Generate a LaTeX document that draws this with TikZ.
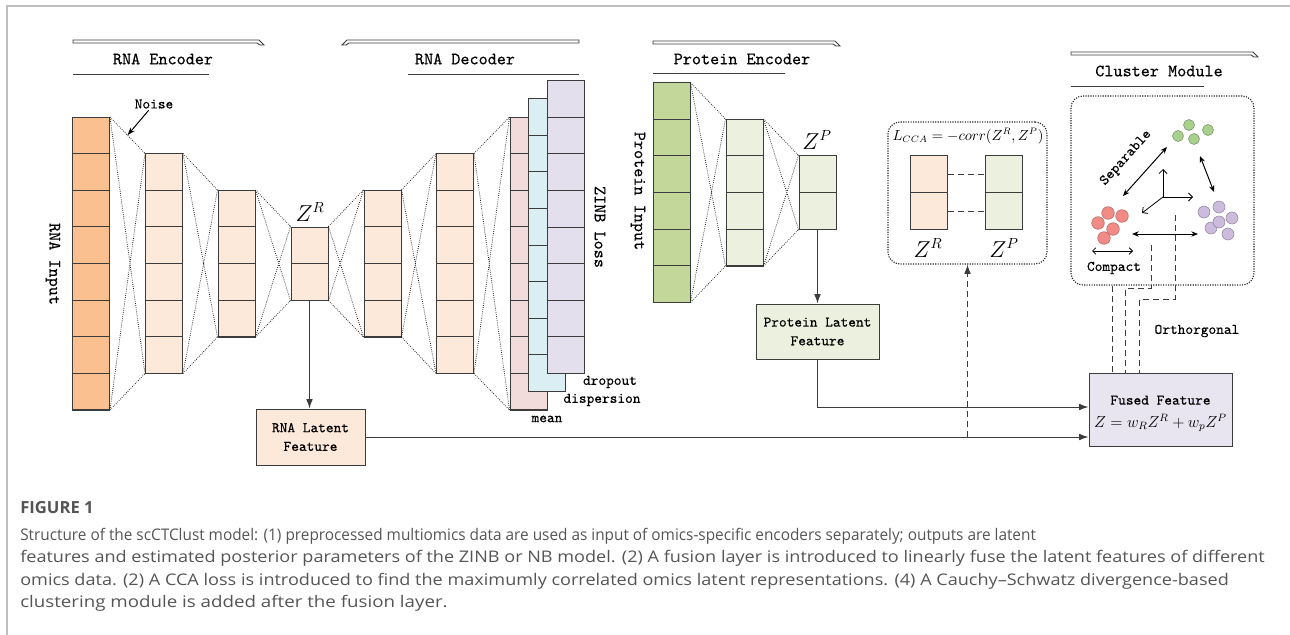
\documentclass[tikz,border=0pt]{standalone}
\usepackage{amsmath}
\usepackage{fontspec}
\newfontfamily\capfont{Open Sans}
\newfontfamily\nnfont[Extension=.otf, FakeBold=0.35]{lmmono10-regular}
\usepackage{xcolor}
\usepackage{graphicx}
\usepackage{tikz}
\usetikzlibrary{
    arrows.meta,
    positioning,
    calc
}

\definecolor{linec}{HTML}{3C3C3C}
\definecolor{rnain}{HTML}{FAC090}
\definecolor{rnal}{HTML}{FDE9D9}
\definecolor{meanc}{HTML}{F2DCDB}
\definecolor{dispc}{HTML}{DAEEF3}
\definecolor{dropc}{HTML}{E4DFEC}
\definecolor{protin}{HTML}{C4D79B}
\definecolor{protl}{HTML}{EBF1DE}
\definecolor{fusedc}{HTML}{E8E4F0}
\definecolor{dotg}{HTML}{A9D18E}
\definecolor{dotr}{HTML}{F28B86}
\definecolor{dotp}{HTML}{CDBBDD}
\definecolor{capgray}{HTML}{555555}

% one layer column: name, x, y, cells, fill
\newcommand{\nncol}[5]{%
    \node[col, fill=#5, minimum height=#4*27.375pt] (#1) at (#2,#3) {};
    \foreach \k in {1,...,#4}
        \draw[cellline] ($(#1.north west)!\k/#4!(#1.south west)$) -- ($(#1.north east)!\k/#4!(#1.south east)$);
}
% dotted links between two layers
\newcommand{\nnlink}[2]{%
    \draw[link] (#1.north east) -- (#2.north west) (#1.south east) -- (#2.south west)
                (#1.north east) -- (#2.south west) (#1.south east) -- (#2.north west);
}
% header bands
\newcommand{\nnband}[3]{%
    \draw[band] (#1,#3) -- (#2,#3) -- ({#2+5},{#3+5}) -- ({#2+1},{#3+5}) -- ({#2-2},{#3+3}) -- (#1,{#3+3}) -- cycle;
}
\newcommand{\nnbandl}[3]{%
    \draw[band] (#2,#3) -- (#1,#3) -- ({#1-5},{#3+5}) -- ({#1-1},{#3+5}) -- ({#1+2},{#3+3}) -- (#2,{#3+3}) -- cycle;
}

\begin{document}
\begin{tikzpicture}[
        x=0.75pt, y=-0.75pt,
        col/.style={
            rectangle,
            draw=linec,
            line width=0.75pt,
            inner sep=0pt,
            minimum width=27.75pt
        },
        cellline/.style={draw=linec, line width=0.75pt},
        link/.style={densely dotted, line width=0.6pt, draw=black!85},
        band/.style={draw=linec, line width=0.65pt, fill=white},
        headtxt/.style={font=\nnfont\fontsize{13}{15}\selectfont, inner sep=1pt},
        vlabel/.style={font=\nnfont\fontsize{13}{15}\selectfont, rotate=-90, inner sep=1pt},
        lbl/.style={font=\nnfont\fontsize{11}{13}\selectfont, inner sep=1pt},
        zlbl/.style={font=\fontsize{16}{18}\selectfont, inner sep=1pt},
        block/.style={
            rectangle,
            draw=linec,
            line width=0.75pt,
            align=center,
            inner sep=2pt,
            font=\nnfont\fontsize{11}{14}\selectfont
        },
        line/.style={
            -{Latex[length=7pt,width=5pt]},
            line width=0.75pt,
            draw=linec
        },
        dline/.style={dash pattern=on 4.5pt off 3pt, line width=0.65pt, draw=linec},
        panel/.style={rectangle, rounded corners=9pt, densely dotted, line width=0.85pt, draw=black!85},
        dbl/.style={{Stealth[length=5pt,width=4pt]}-{Stealth[length=5pt,width=4pt]}, line width=0.75pt},
        small/.style={{Straight Barb[length=2.5pt]}-{Straight Barb[length=2.5pt]}, line width=0.6pt},
        axis/.style={-{Straight Barb[length=3pt]}, line width=0.6pt},
        captxt/.style={anchor=base west, inner sep=0pt, text=capgray, font=\capfont\fontsize{12}{14}\selectfont}
    ]

    \useasboundingbox (0,0) rectangle (1290,635);
    \draw[black!25, line width=0.8pt] (7,635) -- (7,6) -- (1290,6);

    % headers
    \nnband{73}{259}{40}
    \node[headtxt] (hrenc) at (163,59) {RNA Encoder};
    \draw[linec, line width=0.75pt] (73,75) -- (209,75);
    \nnbandl{347}{579}{40}
    \node[headtxt] (hrdec) at (465,59) {RNA Decoder};
    \draw[linec, line width=0.75pt] (408,75) -- (579,75);
    \nnband{653}{835}{41}
    \node[headtxt] (hpenc) at (742,59) {Protein Encoder};
    \draw[linec, line width=0.75pt] (653,74) -- (785,74);
    \nnband{1071}{1253}{52}
    \node[headtxt] (hclus) at (1159,71) {Cluster Module};
    \draw[linec, line width=0.75pt] (1071,87) -- (1204,87);

    % RNA autoencoder
    \nncol{rin}{91}{263.5}{8}{rnain}
    \nncol{renca}{164}{263.5}{6}{rnal}
    \nncol{rencb}{236.5}{263.5}{4}{rnal}
    \nncol{zr}{309.5}{263.5}{2}{rnal}
    \nncol{rdeca}{382.5}{263.5}{4}{rnal}
    \nncol{rdecb}{455}{263.5}{6}{rnal}
    \nncol{mean}{528.5}{263.5}{8}{meanc}
    \nncol{disp}{547}{245}{8}{dispc}
    \nncol{drop}{565.5}{227}{8}{dropc}

    \nnlink{rin}{renca}
    \nnlink{renca}{rencb}
    \nnlink{rencb}{zr}
    \nnlink{zr}{rdeca}
    \nnlink{rdeca}{rdecb}
    \nnlink{rdecb}{mean}

    \node[vlabel] (rinlbl) at (53,264) {RNA Input};
    \node[zlbl] (zrlbl) at (310,212) {$Z^R$};
    \node[lbl] (noise) at (154,104) {Noise};
    \coordinate (noisept) at ($(rin.north east)!0.5!(renca.north west)$);
    \draw[-{Stealth[length=6pt,width=4pt]}, line width=0.75pt] (noise) -- (noisept);

    \node[vlabel] (zinb) at (600,227) {ZINB Loss};
    \node[lbl] (droplbl) at (610,382) {dropout};
    \node[lbl] (displbl) at (602,400) {dispersion};
    \node[lbl] (meanlbl) at (547,419) {mean};

    % protein encoder
    \nncol{pin}{671.5}{192.5}{6}{protin}
    \nncol{penc}{744.5}{192.5}{4}{protl}
    \nncol{zp}{817.5}{192.5}{2}{protl}
    \nnlink{pin}{penc}
    \nnlink{penc}{zp}
    \node[vlabel] (pinlbl) at (638,191) {Protein Input};
    \node[zlbl] (zplbl) at (817,140) {$Z^P$};

    % latent and fused features
    \node[block, fill=rnal, minimum width=81.75pt, minimum height=42pt] (rlat) at (310.5,437)
        {RNA Latent\\Feature};
    \node[block, fill=protl, minimum width=92.25pt, minimum height=41.25pt] (plat) at (817.5,331.5)
        {Protein Latent\\Feature};
    \node[block, fill=fusedc, minimum width=107.25pt, minimum height=54.75pt] (fused) at (1160.5,409.5)
        {\rule{0pt}{13pt}Fused Feature\\[3pt]{\fontsize{12}{14}\selectfont$Z = w_R Z^R + w_p Z^P$}};

    \draw[line] (zr.south) -- (zr.south |- rlat.north);
    \draw[line] (zp.south) -- (zp.south |- plat.north);
    \draw[line] (rlat.east) -- (rlat.east -| fused.west);
    \draw[line] (plat.south) |- ($(fused.west)+(0,-2.5)$);

    % CCA loss
    \node[panel, minimum width=119.25pt, minimum height=106.5pt] (cca) at (967.5,193) {};
    \node[font=\fontsize{10.5}{12}\selectfont, inner sep=1pt] (lcca) at (968,136) {$L_{CCA} = -corr(Z^R, Z^P)$};
    \nncol{czr}{928.5}{192.5}{2}{rnal}
    \nncol{czp}{1003.5}{192.5}{2}{protl}
    \draw[dline] ($(czr.north east)!0.25!(czr.south east)$) -- ($(czp.north west)!0.25!(czp.south west)$);
    \draw[dline] ($(czr.north east)!0.75!(czr.south east)$) -- ($(czp.north west)!0.75!(czp.south west)$);
    \node[zlbl] (czrlbl) at (928,248) {$Z^R$};
    \node[zlbl] (czplbl) at (1004,248) {$Z^P$};
    \coordinate (ccatap) at (cca.south |- rlat.east);
    \draw[dline, -{Latex[length=7pt,width=5pt]}] (ccatap) -- (cca.south);

    % cluster module
    \node[panel, minimum width=137.25pt, minimum height=141.75pt] (clus) at (1162.5,190.5) {};
    \foreach \p in {(1178,136),(1189,125),(1208,130),(1194,139)}
        \draw[fill=dotg, draw=dotg!70!black, line width=0.4pt] \p circle[radius=5.5];
    \foreach \p in {(1108,213),(1122,216),(1098,223),(1113,229),(1104,238)}
        \draw[fill=dotr, draw=dotr!75!black, line width=0.4pt] \p circle[radius=6.3];
    \foreach \p in {(1204,212),(1219,207),(1232,218),(1211,228),(1219,222),(1228,234)}
        \draw[fill=dotp, draw=dotp!70!black, line width=0.4pt] \p circle[radius=6];

    \coordinate (sepa) at (1123,196);
    \coordinate (sepb) at (1167,147);
    \coordinate (gpa) at (1200,156);
    \coordinate (gpb) at (1214,192);
    \coordinate (rpa) at (1132,234);
    \coordinate (rpb) at (1198,234);
    \coordinate (cpa) at (1092,251);
    \coordinate (cpb) at (1133,251);
    \coordinate (axo) at (1163,197);
    \draw[dbl] (sepa) -- (sepb);
    \draw[dbl] (gpa) -- (gpb);
    \draw[dbl] (rpa) -- (rpb);
    \draw[small] (cpa) -- (cpb);
    \draw[axis] (axo) -- ++(0,-28);
    \draw[axis] (axo) -- ++(30,0);
    \draw[axis] (axo) -- ++(-21,16);
    \node[lbl, rotate=48] (seplbl) at (1126,158) {Separable};
    \node[lbl] (cmplbl) at (1114,268) {Compact};

    % orthogonal links
    \coordinate (orta) at ($(fused.north west)+(24,0)$);
    \coordinate (ortb) at ($(fused.north west)+(37,0)$);
    \coordinate (ortc) at ($(fused.north west)+(51,0)$);
    \coordinate (ortbtop) at (1151,245);
    \coordinate (ortctop) at (1175,215);
    \draw[dline] (clus.south -| orta) -- (orta);
    \draw[dline] (ortbtop) -- ++(0,43) -| (ortb);
    \draw[dline] (ortctop) -- ++(0,84) -| (ortc);
    \node[lbl, anchor=west] (ortlbl) at (1153,331) {Orthorgonal};

    % caption
    \node[anchor=base west, inner sep=0pt, text=capgray, font=\capfont\bfseries\fontsize{12.5}{15}\selectfont] (figlbl) at (20,513) {FIGURE 1};
    \node[captxt] (capa) at (20,540)
        {\scalebox{0.96}[1]{Structure of the scCTClust model: (1) preprocessed multiomics data are used as input of omics-specific encoders separately; outputs are latent}};
    \node[captxt] (capb) at (20,562)
        {\scalebox{1.13}[1]{features and estimated posterior parameters of the ZINB or NB model. (2) A fusion layer is introduced to linearly fuse the latent features of different}};
    \node[captxt] (capc) at (20,585)
        {\scalebox{1.13}[1]{omics data. (2) A CCA loss is introduced to find the maximumly correlated omics latent representations. (4) A Cauchy–Schwatz divergence-based}};
    \node[captxt] (capd) at (20,607)
        {\scalebox{1.17}[1]{clustering module is added after the fusion layer.}};

\end{tikzpicture}
\end{document}
